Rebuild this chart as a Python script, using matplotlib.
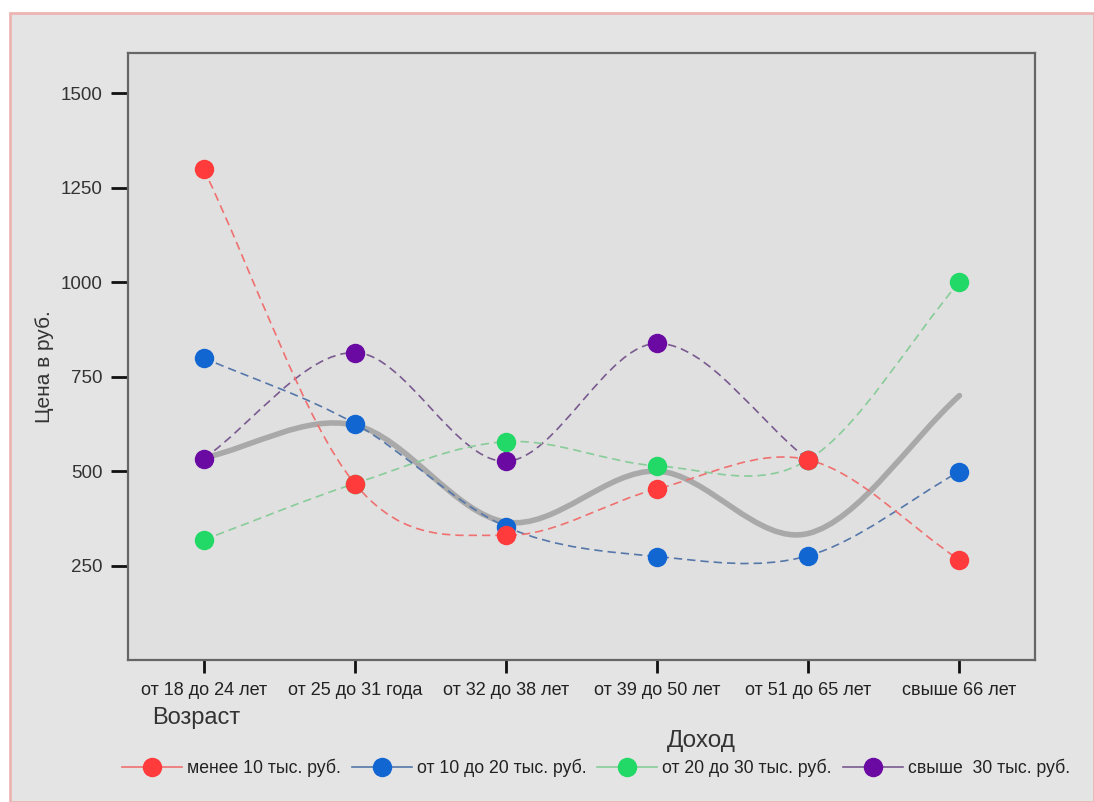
import numpy as np
import matplotlib
matplotlib.use("Agg")
import matplotlib.pyplot as plt
from matplotlib.path import Path
from matplotlib.patches import PathPatch, Rectangle
from matplotlib.lines import Line2D

plt.rcParams['font.family'] = ['Liberation Sans', 'DejaVu Sans']

# данные
categories = ['от 18 до 24 лет', 'от 25 до 31 года', 'от 32 до 38 лет',
              'от 39 до 50 лет', 'от 51 до 65 лет', 'свыше 66 лет']
series_names = ['менее 10 тыс. руб.', 'от 10 до 20 тыс. руб.',
                'от 20 до 30 тыс. руб.', 'свыше  30 тыс. руб.']
low = [1300, 467, 330, 453, 530, 265]
mid = [800, 626, 353, 274, 276, 499]
upper = [318, 467, 578, 514, 530, 1001]
high = [533, 814, 526, 838, 530, np.nan]
overall = [535, 622, 365, 500, 335, 700]

colors = ['#ff3b3b', '#1166d2', '#22d866', '#6a0aa2']
line_colors = ['#f07070', '#5577aa', '#88cc99', '#7a5a90']


def smooth_path(xs, ys):
    """Catmull-Rom кривая через точки, как кубические Безье"""
    xs = np.asarray(xs, float)
    ys = np.asarray(ys, float)
    ok = ~np.isnan(ys)
    xs, ys = xs[ok], ys[ok]
    n = len(xs)
    m = np.zeros(n)
    for i in range(n):
        if i == 0:
            m[i] = (ys[1] - ys[0]) / (xs[1] - xs[0])
        elif i == n - 1:
            m[i] = (ys[-1] - ys[-2]) / (xs[-1] - xs[-2])
        else:
            m[i] = (ys[i + 1] - ys[i - 1]) / (xs[i + 1] - xs[i - 1])
    verts = [(xs[0], ys[0])]
    codes = [Path.MOVETO]
    for i in range(n - 1):
        h = xs[i + 1] - xs[i]
        verts += [(xs[i] + h / 3, ys[i] + m[i] * h / 3),
                  (xs[i + 1] - h / 3, ys[i + 1] - m[i + 1] * h / 3),
                  (xs[i + 1], ys[i + 1])]
        codes += [Path.CURVE4] * 3
    return Path(verts, codes)


fig = plt.figure(figsize=(10.94, 8.02), dpi=100, facecolor='white')
fig.patches.append(Rectangle((10 / 1094, 0), 1 - 10 / 1094, 1 - 13 / 802,
                             transform=fig.transFigure, facecolor='#e4e4e4',
                             edgecolor='#eeb4b4', linewidth=2, zorder=-10))

ax = fig.add_axes([128 / 1094, 1 - 660 / 802, 907 / 1094, 607 / 802])
ax.set_facecolor('#e0e0e0')
x = np.arange(len(categories))

# серая сглаженная линия
ax.add_patch(PathPatch(smooth_path(x, overall), fill=False, edgecolor='#a9a9a9',
                       linewidth=4, capstyle='round', zorder=2))

data = [low, mid, upper, high]
order = [3, 2, 1, 0]  # красные сверху
for k, idx in enumerate(order):
    vals = data[idx]
    ax.add_patch(PathPatch(smooth_path(x, vals), fill=False,
                           edgecolor=line_colors[idx], linewidth=1.2,
                           linestyle=(0, (5, 3)), zorder=3 + k))
    ax.plot(x, vals, 'o', color=colors[idx], markersize=14,
            markeredgewidth=0, zorder=10 + k)

ax.set_xlim(-0.5, 5.5)
ax.set_ylim(0, 1607)
ax.set_yticks([250, 500, 750, 1000, 1250, 1500])
ax.set_xticks(x)
ax.set_xticklabels(categories, fontsize=13, color='#222222')
ax.tick_params(axis='y', labelsize=13.5, labelcolor='#333333', length=12, pad=6)
ax.tick_params(axis='x', length=9, pad=7)
ax.tick_params(direction='out', width=2, color='#111111')
for sp in ax.spines.values():
    sp.set_color('#666666')
    sp.set_linewidth(1.6)

fig.text(45 / 1094, 1 - 367 / 802, 'Цена в руб.', rotation=90, fontsize=15,
         color='#333333', ha='center', va='center')
fig.text(196 / 1094, 1 - 718 / 802, 'Возраст', fontsize=17, color='#333333',
         ha='center', va='center')
fig.text(701 / 1094, 1 - 741 / 802, 'Доход', fontsize=17.5, color='#333333',
         ha='center', va='center')

handles = [Line2D([0], [0], color=line_colors[i], linewidth=1.2, marker='o',
                  markerfacecolor=colors[i], markeredgewidth=0, markersize=14)
           for i in range(4)]
fig.legend(handles, series_names, ncol=4, loc='center',
           bbox_to_anchor=(596 / 1094, 1 - 768 / 802), frameon=False,
           fontsize=12.7, handlelength=3.4, handletextpad=0.3,
           columnspacing=0.6, labelcolor='#222222')

fig.savefig('out.png', dpi=100, facecolor=fig.get_facecolor())
